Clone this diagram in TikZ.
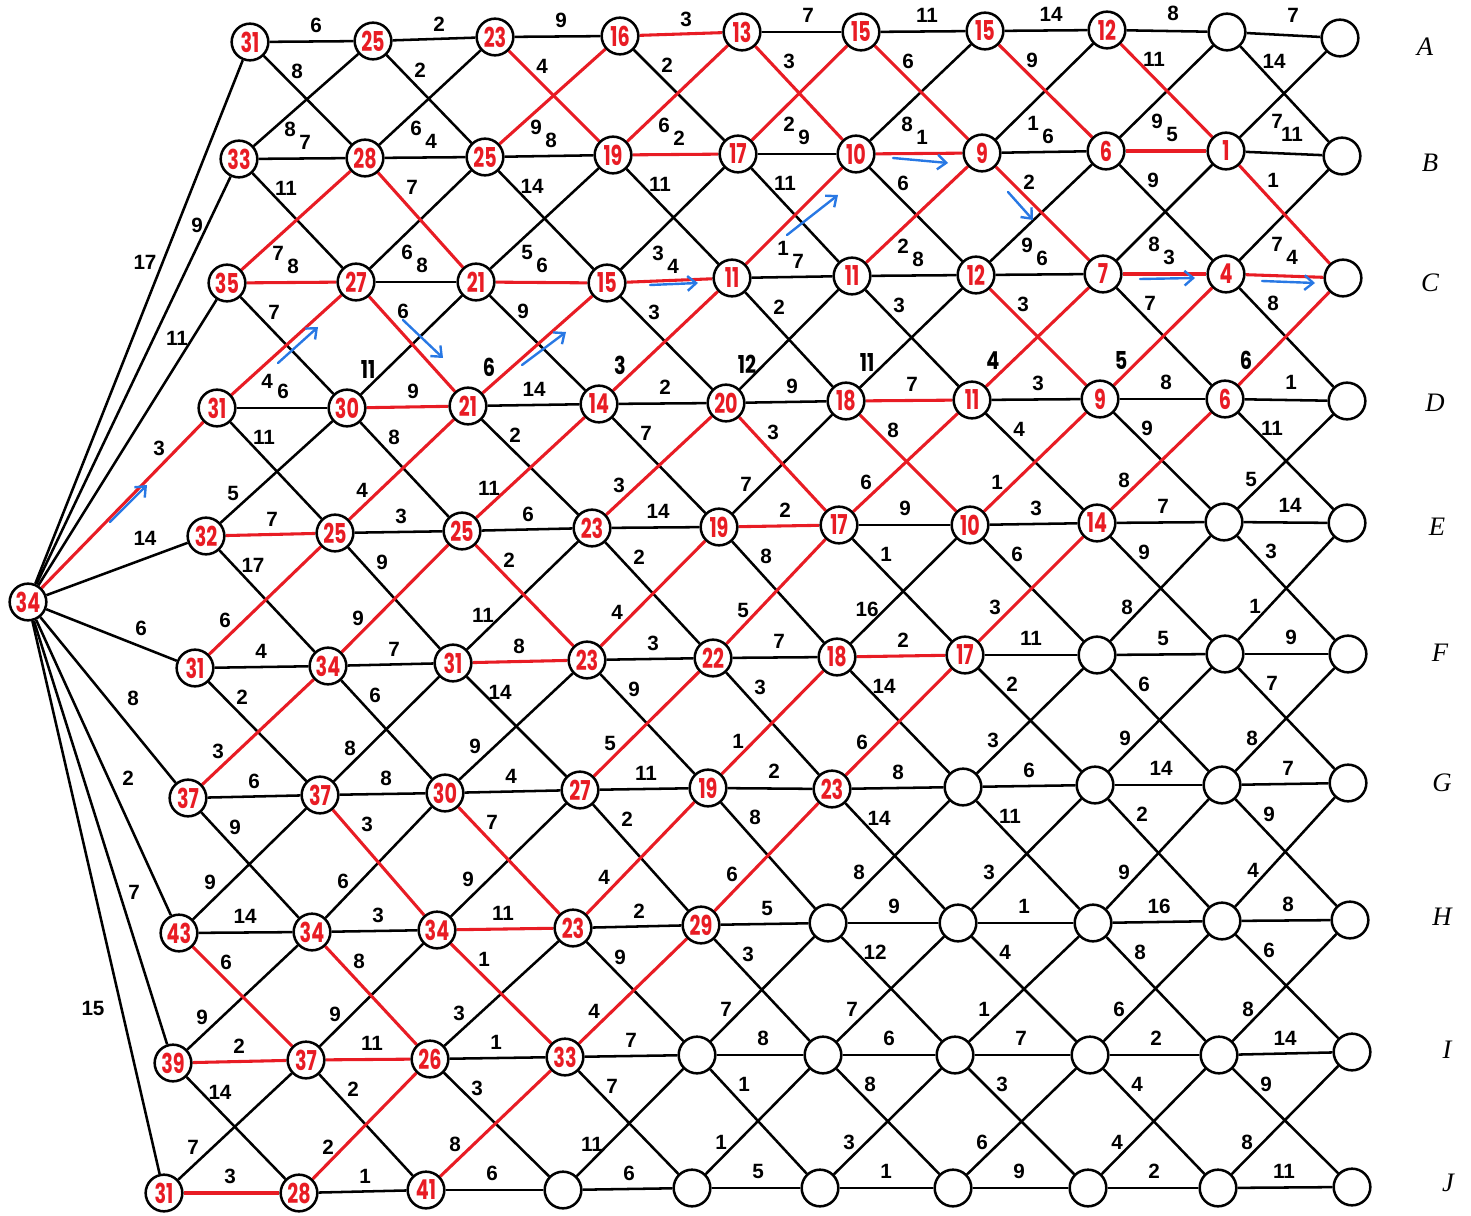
\documentclass[tikz,border=0pt]{standalone}
\usepackage{fontspec}
\usepackage{graphicx}
\setmainfont{Liberation Sans}
\newfontfamily\handfont{Poppins}
\newfontfamily\letterfont{Liberation Serif}
\usetikzlibrary{calc,arrows.meta}
\definecolor{pathred}{RGB}{232,28,36}
\definecolor{pathblue}{RGB}{40,120,228}
\pgfdeclarelayer{blackedges}
\pgfdeclarelayer{redlines}
\pgfsetlayers{blackedges,redlines,main}
\newcommand\rv[1]{\scalebox{0.7}[1]{#1}}
\newcommand\hwt[1]{\scalebox{0.78}[1]{#1}}
\newcommand\edge[6][lbl]{%
  \if#4r\begin{pgfonlayer}{redlines}\draw[er] (#2) -- (#3);\end{pgfonlayer}%
  \else\begin{pgfonlayer}{blackedges}\draw[ek] (#2) -- (#3);\end{pgfonlayer}\fi
  \node[#1] (L#2-#3) at ($(#2)+(#6)$) {#5};}
\begin{document}
\begin{tikzpicture}[x=0.75pt,y=-0.75pt,
  nd/.style={circle,draw,line width=1.9pt,minimum size=27.5pt,inner sep=0pt,fill=white,
    text=pathred,font=\handfont\bfseries\fontsize{20.5}{20.5}\selectfont},
  ek/.style={line width=1.9pt,black},
  er/.style={line width=2.3pt,pathred},
  lbl/.style={font=\bfseries\fontsize{15.5}{15.5}\selectfont,inner sep=0pt},
  hw/.style={font=\handfont\bfseries\fontsize{18.5}{18.5}\selectfont,inner sep=0pt},
  rowl/.style={font=\letterfont\itshape\fontsize{20}{20}\selectfont,inner sep=0pt},
  barrow/.style={pathblue,line width=1.8pt,line cap=round,-{Straight Barb[length=6.5pt,width=11pt]}}]
\useasboundingbox (0,0) rectangle (1471,1216);
% nodes
\foreach \nm/\x/\y/\val in {S/28/602/34,
A1/250/42/31, A2/373/41/25, A3/495/37/23, A4/620/36/16, A5/742/32/13, A6/861/32/15, A7/985/31/15, A8/1107/30/12, A9/1227/32/{}, A10/1340/38/{},
B1/239/159/33, B2/365/158/28, B3/485/157/25, B4/613/155/19, B5/738/154/17, B6/856/154/10, B7/982/153/9, B8/1106/151/6, B9/1226/151/1, B10/1342/156/{},
C1/227/283/35, C2/356/282/27, C3/476/282/21, C4/607/283/15, C5/732/278/11, C6/852/276/11, C7/976/275/12, C8/1103/274/7, C9/1226/274/4, C10/1343/278/{},
D1/217/408/31, D2/347/408/30, D3/468/406/21, D4/599/404/14, D5/726/403/20, D6/846/401/18, D7/972/400/11, D8/1100/399/9, D9/1225/399/6, D10/1347/401/{},
E1/206/536/32, E2/335/533/25, E3/462/531/25, E4/592/528/23, E5/719/527/19, E6/839/525/17, E7/970/525/10, E8/1097/523/14, E9/1224/522/{}, E10/1347/523/{},
F1/195/668/31, F2/328/666/34, F3/453/663/31, F4/587/660/23, F5/713/658/22, F6/837/657/18, F7/965/655/17, F8/1097/655/{}, F9/1225/654/{}, F10/1348/654/{},
G1/188/798/37, G2/320/795/37, G3/445/793/30, G4/580/790/27, G5/708/788/19, G6/832/789/23, G7/963/787/{}, G8/1095/785/{}, G9/1222/785/{}, G10/1348/783/{},
H1/179/933/43, H2/312/932/34, H3/437/930/34, H4/573/928/23, H5/701/925/29, H6/828/923/{}, H7/958/923/{}, H8/1093/923/{}, H9/1222/921/{}, H10/1350/920/{},
I1/173/1063/39, I2/306/1060/37, I3/430/1059/26, I4/565/1057/33, I5/697/1055/{}, I6/823/1055/{}, I7/955/1055/{}, I8/1090/1055/{}, I9/1219/1055/{}, I10/1352/1052/{},
J1/164/1193/31, J2/299/1193/28, J3/426/1190/41, J4/563/1190/{}, J5/692/1188/{}, J6/820/1188/{}, J7/953/1188/{}, J8/1088/1188/{}, J9/1218/1188/{}, J10/1352/1187/{}}
  {\node[nd] (\nm) at (\x,\y) {\rv{\val}};}
% source edges
\begin{pgfonlayer}{blackedges}
\foreach \tg in {A1,B1,C1,E1,F1,G1,H1,I1,J1} \draw[ek] (S) -- (\tg);
\end{pgfonlayer}
\begin{pgfonlayer}{redlines}\draw[er] (S) -- (D1);\end{pgfonlayer}
\foreach \tg/\wt/\x/\y in {A1/17/145/262, B1/9/197/225, C1/11/177/338, D1/3/159/448, E1/14/145/538, F1/6/141/628, G1/8/133/698, H1/2/128/778, I1/7/134/892, J1/15/93/1008}
  {\node[lbl] (LS-\tg) at (\x,\y) {\wt};}
% horizontal edges
\foreach \ra/\lst in {
 A/{6/k,2/k,9/k,3/r,7/k,11/k,14/k,8/k,7/k},
 B/{7/k,4/k,8/k,2/r,9/k,1/r,6/k,5/r,11/k},
 C/{8/r,8/k,6/r,4/r,7/k,8/k,6/k,3/r,4/r},
 D/{6/k,9/r,14/k,2/k,9/k,7/r,3/k,8/k,1/k},
 E/{7/r,3/k,6/k,14/k,2/r,9/k,3/k,7/k,14/k},
 F/{4/k,7/k,8/r,3/k,7/k,2/r,11/k,5/k,9/k},
 G/{6/k,8/k,4/k,11/k,2/k,8/k,6/k,14/k,7/k},
 H/{14/k,3/k,11/r,2/k,5/k,9/k,1/k,16/k,8/k},
 I/{2/r,11/r,1/k,7/k,8/k,6/k,7/k,2/k,14/k},
 J/{3/r,1/k,6/k,6/k,5/k,1/k,9/k,2/k,11/k}}
 {\foreach [count=\cc] \wt/\tp in \lst {\pgfmathtruncatemacro\nx{\cc+1}\edge{\ra\cc}{\ra\nx}{\tp}{\wt}{66,-17}}}
% down-right diagonals
\foreach \ra/\rb/\lst in {
 A/B/{8/k,2/k,4/r,2/k,3/r,6/r,9/r,11/r,14/k},
 B/C/{11/k,7/r,14/k,11/k,11/k,6/k,2/r,9/k,1/r},
 C/D/{7/k,6/r,9/k,3/k,2/k,3/k,3/r,7/k,8/k},
 D/E/{11/k,8/k,2/k,7/k,3/r,8/r,4/k,9/k,11/k},
 E/F/{17/k,9/k,2/r,2/k,8/k,1/k,6/k,9/k,3/k},
 F/G/{2/k,6/k,14/k,9/k,3/k,14/k,2/k,6/k,7/k},
 G/H/{9/k,3/r,7/r,2/k,8/k,14/k,11/k,2/k,9/k},
 H/I/{6/r,8/r,1/r,9/k,3/k,12/k,4/k,8/k,6/k},
 I/J/{14/k,2/k,3/k,7/k,1/k,8/k,3/k,4/k,9/k}}
 {\foreach [count=\cc] \wt/\tp in \lst {\pgfmathtruncatemacro\nx{\cc+1}\edge{\ra\cc}{\rb\nx}{\tp}{\wt}{47,29}}}
% up-right diagonals
\foreach \ra/\rb/\lst/\ox/\oy in {
 A/B/{8/k,6/k,9/r,6/r,2/r,8/k,1/k,9/k,7/k}/51/-30,
 B/C/{7/r,6/k,5/k,3/k,1/r,2/r,9/k,8/k,7/k}/51/-30,
 D/E/{5/k,4/r,11/r,3/r,7/k,6/r,1/r,8/r,5/k}/27/-43,
 E/F/{6/r,9/r,11/k,4/r,5/r,16/k,3/r,8/k,1/k}/30/-48,
 F/G/{3/r,8/k,9/k,5/r,1/r,6/r,3/k,9/k,8/k}/30/-47,
 G/H/{9/k,6/k,9/k,4/r,6/r,8/k,3/k,9/k,4/k}/31/-51,
 H/I/{9/k,9/k,3/k,4/r,7/k,7/k,1/k,6/k,8/k}/29/-46,
 I/J/{7/k,2/r,8/r,11/k,1/k,3/k,6/k,4/k,8/k}/29/-46}
 {\foreach [count=\cc] \wt/\tp in \lst {\pgfmathtruncatemacro\nx{\cc+1}\edge{\rb\cc}{\ra\nx}{\tp}{\wt}{\ox,\oy}}}
\edge{D1}{C2}{r}{4}{50,-27}
\foreach [count=\cc from 2] \wt/\tp in {11/k,6/r,3/r,12/k,11/k,4/r,5/r,6/r}
 {\pgfmathtruncatemacro\nx{\cc+1}\edge[hw]{D\cc}{C\nx}{\tp}{\hwt{\wt}}{21,-39}}
% blue arrows
\foreach \xa/\ya/\xb/\yb in {110/522/147/485, 278/363/318/327, 403/320/443/358, 522/365/566/332, 650/285/698/283, 787/235/838/195, 893/158/948/163, 1008/192/1033/220, 1140/279/1195/278, 1262/281/1315/283}
 {\draw[barrow] (\xa,\ya) -- (\xb,\yb);}
% row letters
\foreach \lt/\x/\y in {A/1425/47, B/1430/163, C/1430/283, D/1435/403, E/1437/527, F/1440/653, G/1442/783, H/1442/917, I/1447/1050, J/1448/1183}
 {\node[rowl] (row\lt) at (\x,\y) {\lt};}
\end{tikzpicture}
\end{document}
